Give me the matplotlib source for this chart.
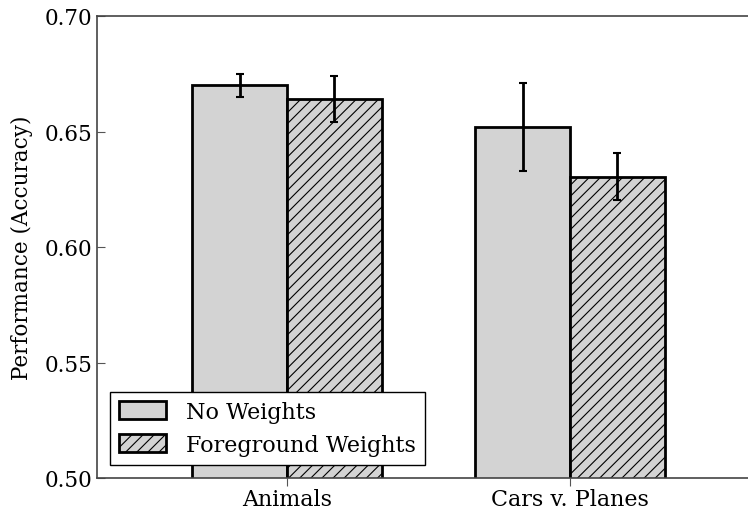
import matplotlib
matplotlib.use("Agg")
import matplotlib.pyplot as plt
import numpy as np

plt.rcParams['font.family'] = ['DejaVu Serif']
plt.rcParams['hatch.color'] = '#333333'
plt.rcParams['hatch.linewidth'] = 0.8

categories = ["Animals", "Cars v. Planes"]
series_names = ["No Weights", "Foreground Weights"]
no_weights = [0.670, 0.652]
no_weights_err = [0.005, 0.019]
fg_weights = [0.664, 0.6305]
fg_weights_err = [0.010, 0.010]
yticks = [0.50, 0.55, 0.60, 0.65, 0.70]

fig = plt.figure(figsize=(7.48, 5.10), dpi=100)
ax = fig.add_axes([97/748, 1 - 479/510, (760 - 97)/748, (479 - 17)/510])

x = np.arange(len(categories))
w = 0.335
ax.bar(x - w/2, no_weights, w, yerr=no_weights_err, color='#d3d3d3',
       edgecolor='black', linewidth=2, label=series_names[0],
       error_kw=dict(ecolor='black', elinewidth=2, capsize=3, capthick=1.5))
ax.bar(x + w/2, fg_weights, w, yerr=fg_weights_err, color='#d3d3d3',
       edgecolor='black', linewidth=2, hatch='///', label=series_names[1],
       error_kw=dict(ecolor='black', elinewidth=2, capsize=3, capthick=1.5))

ax.set_xlim(-0.671, 1.671)
ax.set_ylim(0.50, 0.70)
ax.set_yticks(yticks)
ax.set_yticklabels([f"{v:.2f}" for v in yticks])
ax.set_xticks(x)
ax.set_xticklabels(categories)
ax.tick_params(axis='y', direction='in', length=6, labelsize=15.5, color='#555555')
ax.tick_params(axis='x', direction='out', length=6, labelsize=16, color='#555555', pad=1)
ax.tick_params(right=False, top=False)
for s in ax.spines.values():
    s.set_color('#444444')
    s.set_linewidth(1.2)
ax.set_ylabel("Performance (Accuracy)", fontsize=15.5, labelpad=8)

leg = ax.legend(loc='lower left', fontsize=16, fancybox=False, framealpha=1,
                edgecolor='black', borderaxespad=0.6, handlelength=2.1,
                handleheight=0.9, handletextpad=0.9)
leg.get_frame().set_linewidth(1.0)

fig.savefig("out.png", dpi=100)
